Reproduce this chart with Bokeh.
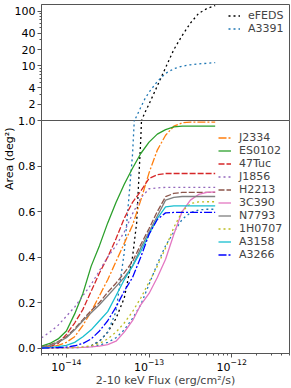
import numpy as np
from bokeh.plotting import figure
from bokeh.layouts import column
from bokeh.models import (FixedTicker, NumeralTickFormatter, CustomJSTickFormatter,
                          Legend, LegendItem, Title, Range1d)
from bokeh.embed import file_html
from bokeh.resources import INLINE

# ---------------- data ----------------
log_flux = [-14.3, -14.2, -14.1, -14.0, -13.9, -13.8, -13.7, -13.6, -13.5, -13.4, -13.3,
            -13.2, -13.1, -13.0, -12.9, -12.8, -12.7, -12.6, -12.5, -12.4, -12.3, -12.2]

J2334 = [0.003, 0.006, 0.012, 0.025, 0.05, 0.10, 0.16, 0.23, 0.30, 0.38, 0.46,
         0.54, 0.65, 0.77, 0.87, 0.935, 0.975, 0.99, 0.993, 0.993, 0.993, 0.993]
ES0102 = [0.008, 0.02, 0.04, 0.075, 0.15, 0.24, 0.36, 0.45, 0.55, 0.64, 0.72,
          0.79, 0.855, 0.905, 0.94, 0.96, 0.972, 0.975, 0.975, 0.975, 0.975, 0.975]
Tuc47 = [0.002, 0.006, 0.02, 0.06, 0.11, 0.17, 0.25, 0.33, 0.40, 0.48, 0.57,
         0.64, 0.69, 0.745, 0.762, 0.767, 0.767, 0.767, 0.767, 0.767, 0.767, 0.767]
J1856 = [0.045, 0.07, 0.10, 0.14, 0.18, 0.23, 0.28, 0.34, 0.40, 0.45, 0.51,
         0.59, 0.66, 0.70, 0.704, 0.706, 0.706, 0.706, 0.706, 0.706, 0.706, 0.706]
H2213 = [0.004, 0.014, 0.028, 0.05, 0.085, 0.125, 0.165, 0.20, 0.245, 0.285, 0.33,
         0.38, 0.455, 0.525, 0.60, 0.665, 0.68, 0.684, 0.684, 0.684, 0.684, 0.684]
C390 = [0.0, 0.0, 0.001, 0.001, 0.002, 0.003, 0.005, 0.008, 0.015, 0.03, 0.07,
        0.12, 0.19, 0.24, 0.31, 0.39, 0.50, 0.60, 0.65, 0.675, 0.684, 0.686]
N7793 = [0.003, 0.012, 0.025, 0.045, 0.08, 0.12, 0.155, 0.19, 0.23, 0.27, 0.31,
         0.36, 0.44, 0.51, 0.58, 0.65, 0.662, 0.666, 0.666, 0.666, 0.666, 0.666]
H0707 = [0.0, 0.0, 0.001, 0.001, 0.002, 0.005, 0.01, 0.02, 0.04, 0.07, 0.11,
         0.16, 0.22, 0.29, 0.36, 0.44, 0.53, 0.60, 0.635, 0.642, 0.643, 0.643]
A3158 = [0.001, 0.003, 0.006, 0.012, 0.025, 0.05, 0.08, 0.12, 0.16, 0.23, 0.30,
         0.36, 0.425, 0.50, 0.57, 0.62, 0.625, 0.625, 0.625, 0.625, 0.625, 0.625]
A3266 = [0.0, 0.001, 0.002, 0.004, 0.01, 0.02, 0.04, 0.075, 0.12, 0.18, 0.25,
         0.31, 0.40, 0.50, 0.565, 0.594, 0.596, 0.596, 0.596, 0.596, 0.596, 0.596]
# unlabelled blue dotted curve (no legend entry in the reference)
extra_blue = [0.0, 0.0, 0.0, 0.001, 0.002, 0.003, 0.006, 0.012, 0.025, 0.045, 0.08,
              0.13, 0.19, 0.28, 0.37, 0.45, 0.51, 0.565, 0.595, 0.607, 0.61, 0.61]

big_log_flux = [-13.7, -13.6, -13.5, -13.4, -13.3, -13.2, -13.15, -13.1, -13.05, -13.0,
                -12.9, -12.8, -12.7, -12.6, -12.5, -12.4, -12.3, -12.2]
eFEDS = [0.01, 0.03, 0.07, 0.13, 0.22, 0.40, 0.55, 0.92, 1.4, 2.0,
         4.3, 9.3, 20.0, 36.0, 61.0, 92.0, 113.0, 128.0]
A3391 = [0.01, 0.03, 0.07, 0.16, 0.42, 0.85, 1.2, 1.75, 2.5, 3.3,
         5.2, 7.3, 8.9, 9.9, 10.5, 10.9, 11.2, 11.5]

DOT = "2 3"
DASH = "6 2"
DASHDOT = "8 2 2 2"

small_series = [
    ("J2334", J2334, "#ff7f0e", DASHDOT),
    ("ES0102", ES0102, "#2ca02c", "solid"),
    ("47Tuc", Tuc47, "#d62728", DASH),
    ("J1856", J1856, "#9467bd", DOT),
    ("H2213", H2213, "#8c564b", DASH),
    ("3C390", C390, "#e377c2", "solid"),
    ("N7793", N7793, "#7f7f7f", "solid"),
    ("1H0707", H0707, "#bcbd22", DOT),
    ("A3158", A3158, "#17becf", "solid"),
    ("A3266", A3266, "#0000ff", DASHDOT),
]
big_series = [
    ("eFEDS", eFEDS, "#000000", DOT),
    ("A3391", A3391, "#1f77b4", DOT),
]

x_ticks = [1e-14, 1e-13, 1e-12]
top_y_ticks = [1, 2, 4, 10, 20, 40, 100]
top_y_minor = [3, 5, 6, 7, 8, 9, 30, 50, 60, 70, 80, 90]
bot_y_ticks = [0.0, 0.2, 0.4, 0.6, 0.8]

flux = 10 ** np.array(log_flux)
big_flux = 10 ** np.array(big_log_flux)

FONT = "DejaVu Sans"
FS = "11px"
AXC = "#555555"
LW = 1.3

x_minor = [k * 10.0 ** e for e in range(-15, -11) for k in range(2, 10)]


def style_axes(p):
    p.grid.visible = False
    p.outline_line_color = AXC
    p.outline_line_width = 1
    p.background_fill_color = "white"
    for ax in p.axis:
        ax.axis_line_color = AXC
        ax.major_tick_line_color = AXC
        ax.minor_tick_line_color = AXC
        ax.major_tick_out = 4
        ax.major_tick_in = 0
        ax.minor_tick_out = 2
        ax.minor_tick_in = 0
        ax.major_label_text_font = FONT
        ax.major_label_text_font_size = FS
        ax.major_label_text_color = "black"
        ax.major_label_standoff = 2


x_range = Range1d(5e-15, 5e-12)

# ---------------- top panel (log y) ----------------
pt = figure(frame_width=248, frame_height=116, x_axis_type="log", y_axis_type="log",
            x_range=x_range, y_range=Range1d(1, 134),
            x_axis_location=None, output_backend="svg", toolbar_location=None,
            min_border_left=40, min_border_right=3, min_border_top=4, min_border_bottom=8)
pt.yaxis.ticker = FixedTicker(ticks=top_y_ticks, minor_ticks=top_y_minor)
pt.yaxis.formatter = CustomJSTickFormatter(code="return tick < 1.5 ? tick.toFixed(1) : tick.toFixed(0);")
style_axes(pt)

top_items = []
for name, vals, col, dash in big_series:
    r = pt.line(big_flux, vals, line_color=col, line_dash=dash, line_width=LW)
    top_items.append(LegendItem(label=name, renderers=[r]))
leg_t = Legend(items=top_items, location=(187, 85), glyph_width=12, glyph_height=13,
               label_height=13, label_standoff=8, spacing=0, padding=1, margin=0,
               label_text_font=FONT, label_text_font_size=FS,
               background_fill_alpha=0, border_line_color=None)
pt.add_layout(leg_t)

# ---------------- bottom panel (linear y) ----------------
pb = figure(frame_width=248, frame_height=233, x_axis_type="log",
            x_range=x_range, y_range=Range1d(-0.024, 1.0),
            output_backend="svg", toolbar_location=None,
            min_border_left=40, min_border_right=3, min_border_top=0, min_border_bottom=35)
pb.margin = (-8, 0, 0, 0)
pb.border_fill_alpha = 0
pb.xaxis.ticker = FixedTicker(ticks=x_ticks, minor_ticks=x_minor)
pb.yaxis.ticker = FixedTicker(ticks=bot_y_ticks, minor_ticks=[])
pb.yaxis.formatter = NumeralTickFormatter(format="0.0")
pb.xaxis.axis_label = "2-10 keV Flux (erg/cm\u00b2/s)"
pb.xaxis.axis_label_text_font = FONT
pb.xaxis.axis_label_text_font_size = FS
pb.xaxis.axis_label_text_font_style = "normal"
pb.xaxis.axis_label_standoff = 0
style_axes(pb)
pb.xaxis.major_label_standoff = 1

for name, vals, col, dash in big_series:
    pb.line(big_flux, vals, line_color=col, line_dash=dash, line_width=LW)
pb.line(flux, extra_blue, line_color="#1f77b4", line_dash=DOT, line_width=LW)

bot_items = []
for name, vals, col, dash in small_series:
    r = pb.line(flux, vals, line_color=col, line_dash=dash, line_width=LW)
    bot_items.append(LegendItem(label=name, renderers=[r]))
leg_b = Legend(items=bot_items, location=(177, 92), glyph_width=13, glyph_height=13,
               label_height=13, label_standoff=8, spacing=0, padding=3, margin=0,
               label_text_font=FONT, label_text_font_size=FS,
               background_fill_alpha=0, border_line_color=None)
pb.add_layout(leg_b)

ytitle = Title(text="Area (deg\u00b2)", align="right", offset=7, standoff=0,
               text_font=FONT, text_font_size=FS, text_font_style="normal",
               text_color="black")
pb.add_layout(ytitle, "left")

layout = column(pt, pb, spacing=0)
open("out.html", "w").write(file_html(layout, INLINE))
